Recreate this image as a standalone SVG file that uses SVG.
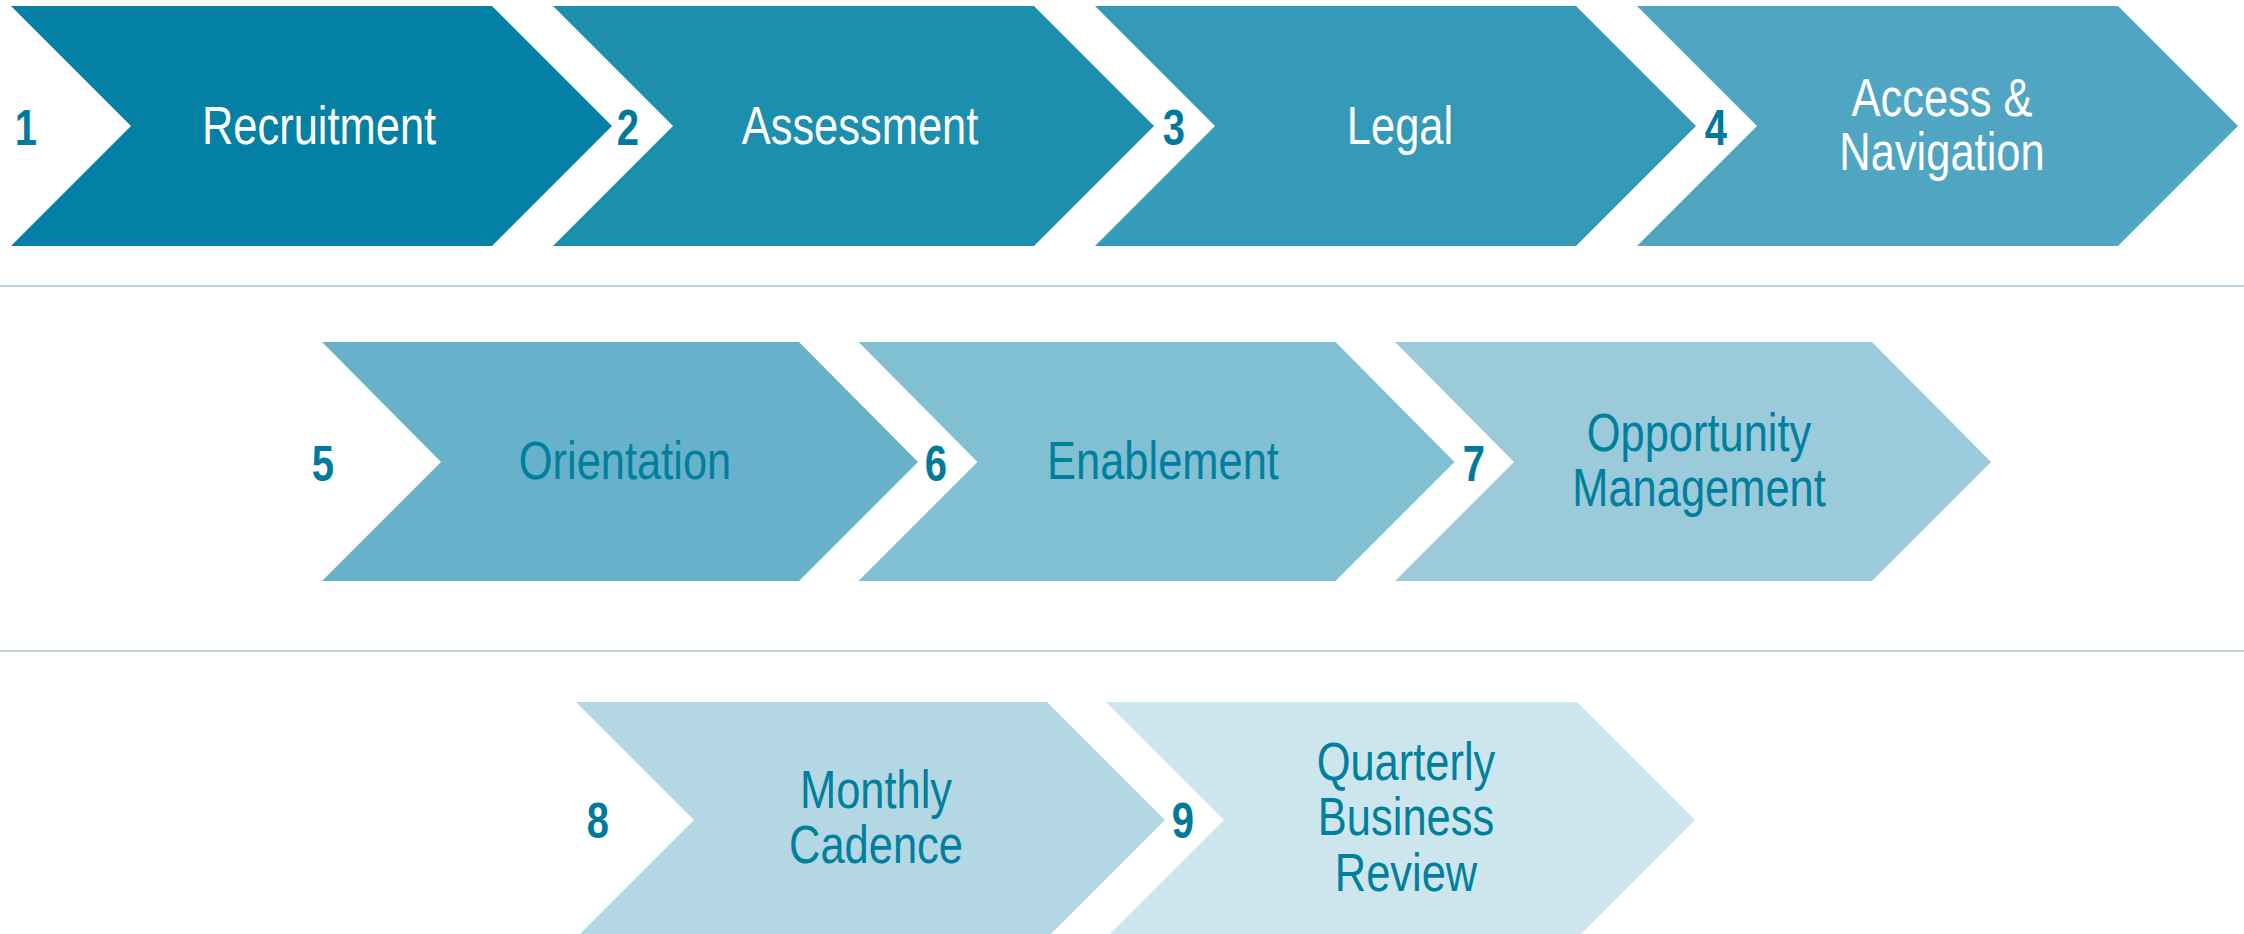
<svg xmlns="http://www.w3.org/2000/svg" width="2244" height="934" viewBox="0 0 2244 934">
  <style>
    /* condensed sans: regular face squeezed horizontally */
    .lbl { font-family: "Liberation Sans", Arial, sans-serif; font-size: 53px; text-anchor: middle; }
    .lbl-light { fill: #ffffff; }
    .lbl-dark { fill: #007f9f; }
    .num { font-family: "Liberation Sans", Arial, sans-serif; font-size: 50px; font-weight: bold; text-anchor: middle; fill: #007a9c; }
    .rule { stroke: #a8c5d3; stroke-width: 1.5; fill: none; }
  </style>
  <defs>
    <!-- chevron outlines per row, drawn from the left edge at x=0 -->
    <polygon id="chev-a" points="0,6 481,6 601,126 481,246 0,246 120,126"/>
    <polygon id="chev-b" points="0,342 477,342 596,462 477,581 0,581 119,462"/>
    <polygon id="chev-c" points="0,702 471,702 589,820 471,938 0,938 118,820"/>
  </defs>
  <rect width="2244" height="934" fill="#ffffff"/>

  <g id="connectors">
    <line class="rule" x1="0" y1="286" x2="2244" y2="286"/>
    <line class="rule" x1="0" y1="651" x2="2244" y2="651"/>
  </g>

  <!-- row 1 -->
  <g id="step-1">
    <use href="#chev-a" x="11" fill="#0380a3"/>
    <text class="num" transform="translate(26,145) scale(0.8,1)">1</text>
    <text class="lbl lbl-light" transform="translate(319,144) scale(0.82,1)">Recruitment</text>
  </g>
  <g id="step-2">
    <use href="#chev-a" x="553" fill="#1c8eae"/>
    <text class="num" transform="translate(628,145) scale(0.8,1)">2</text>
    <text class="lbl lbl-light" transform="translate(860,144) scale(0.82,1)">Assessment</text>
  </g>
  <g id="step-3">
    <use href="#chev-a" x="1095" fill="#3599b8"/>
    <text class="num" transform="translate(1174,145) scale(0.8,1)">3</text>
    <text class="lbl lbl-light" transform="translate(1400,144) scale(0.82,1)">Legal</text>
  </g>
  <g id="step-4">
    <use href="#chev-a" x="1637" fill="#50a6c2"/>
    <text class="num" transform="translate(1716,145) scale(0.8,1)">4</text>
    <text class="lbl lbl-light" transform="translate(1942,116) scale(0.82,1)">Access &amp;</text>
    <text class="lbl lbl-light" transform="translate(1942,170) scale(0.82,1)">Navigation</text>
  </g>

  <!-- row 2 -->
  <g id="step-5">
    <use href="#chev-b" x="322" fill="#67b2ca"/>
    <text class="num" transform="translate(323,481) scale(0.8,1)">5</text>
    <text class="lbl lbl-dark" transform="translate(625,479) scale(0.82,1)">Orientation</text>
  </g>
  <g id="step-6">
    <use href="#chev-b" x="858.5" fill="#81bfd3"/>
    <text class="num" transform="translate(936,481) scale(0.8,1)">6</text>
    <text class="lbl lbl-dark" transform="translate(1163,479) scale(0.82,1)">Enablement</text>
  </g>
  <g id="step-7">
    <use href="#chev-b" x="1395" fill="#9bcbdb"/>
    <text class="num" transform="translate(1474,481) scale(0.8,1)">7</text>
    <text class="lbl lbl-dark" transform="translate(1699,451) scale(0.82,1)">Opportunity</text>
    <text class="lbl lbl-dark" transform="translate(1699,506) scale(0.82,1)">Management</text>
  </g>

  <!-- row 3 -->
  <g id="step-8">
    <use href="#chev-c" x="576" fill="#b4d8e3"/>
    <text class="num" transform="translate(598,838) scale(0.8,1)">8</text>
    <text class="lbl lbl-dark" transform="translate(876,808) scale(0.82,1)">Monthly</text>
    <text class="lbl lbl-dark" transform="translate(876,863) scale(0.82,1)">Cadence</text>
  </g>
  <g id="step-9">
    <use href="#chev-c" x="1106" fill="#cde5ec"/>
    <text class="num" transform="translate(1183,838) scale(0.8,1)">9</text>
    <text class="lbl lbl-dark" transform="translate(1406,780) scale(0.82,1)">Quarterly</text>
    <text class="lbl lbl-dark" transform="translate(1406,835) scale(0.82,1)">Business</text>
    <text class="lbl lbl-dark" transform="translate(1406,891) scale(0.82,1)">Review</text>
  </g>
</svg>
